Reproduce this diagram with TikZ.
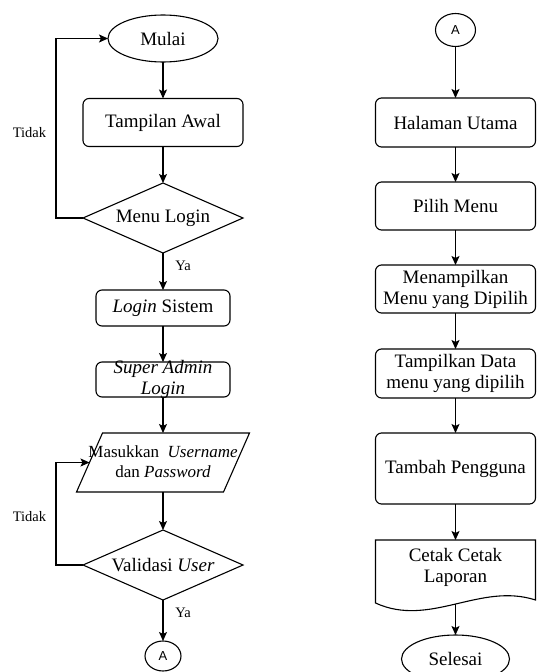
\documentclass[tikz,border=0pt]{standalone}
\usepackage{fontspec}
\setmainfont{Liberation Serif}
\newfontfamily\connfont{Liberation Sans}
\usetikzlibrary{shapes.geometric,arrows.meta,calc}

\tikzset{
  every node/.style={inner sep=0pt, outer sep=0pt},
  boxtext/.style={font=\fontsize{19}{21}\selectfont, align=center},
  lbl/.style={font=\fontsize{14.5}{16}\selectfont},
  terminal/.style={ellipse, draw, line width=1.1pt, boxtext},
  procbox/.style={rectangle, rounded corners=6pt, draw, line width=1.1pt, boxtext},
  decision/.style={diamond, aspect=2.3, draw, line width=1.1pt, boxtext,
                   minimum width=160pt, minimum height=70pt},
  connector/.style={circle, draw, line width=1.1pt, ellipse,
                    font=\connfont\fontsize{13}{15}\selectfont},
  flow/.style={draw, line width=1.1pt, -{Stealth[length=9pt,width=8pt,inset=2pt]}},
  edge/.style={draw, line width=1.1pt},
}

\begin{document}
\begin{tikzpicture}[x=1pt, y=-1pt]
\useasboundingbox (0,0) rectangle (536,672);

% ---------- left column ----------
\node[terminal, minimum width=110pt, minimum height=47pt] (mulai) at (163,38.5) {Mulai};
\node[procbox, minimum width=160pt, minimum height=48pt] (awal) at (163,122.5) {Tampilan Awal};
\node[decision] (menulogin) at (163,218) {Menu Login};
\node[procbox, minimum width=134pt, minimum height=36pt] (login) at (163,308) {\textit{Login} Sistem};
\node[procbox, minimum width=134pt, minimum height=35pt,
      label={[name=satext, boxtext]center:\textit{Super Admin}\\\textit{Login}}] (superadmin) at (163,379.5) {};

% input parallelogram
\node[minimum width=173pt, minimum height=59pt] (input) at (163,462.5) {};
\draw[edge] ($(input.north west)+(26,0)$) -- (input.north east)
            -- ($(input.south east)+(-26,0)$) -- (input.south west) -- cycle;
\node[font=\fontsize{17}{20}\selectfont, align=center] (inputtext) at (163,462)
     {Masukkan\ \ \textit{Username}\\dan \textit{Password}};
\coordinate (inputleft) at ($(input.west)+(13,0)$);

\node[decision] (validasi) at (163,565) {Validasi \textit{User}};
\node[connector, minimum width=36pt, minimum height=30pt] (aleft) at (163,656) {A};

% loop lane on the far left
\coordinate (lane) at (56,0);

\path[flow] (mulai) -- (awal);
\path[flow] (awal) -- (menulogin);
\path[flow] (menulogin) -- (login);
\path[flow] (login) -- (superadmin);
\path[flow] (superadmin) -- (input);
\path[flow] (input) -- (validasi);
\path[flow] (validasi) -- (aleft);
\path[flow] (menulogin.west) -- (menulogin.west -| lane) |- (mulai.west);
\path[flow] (validasi.west) -- (validasi.west -| lane) |- (inputleft);

\node[lbl] (tidak1) at (29.5,133) {Tidak};
\node[lbl] (ya1) at (183,266) {Ya};
\node[lbl] (tidak2) at (29.5,517) {Tidak};
\node[lbl] (ya2) at (183,613) {Ya};

% ---------- right column ----------
\node[connector, minimum width=40pt, minimum height=33pt] (aright) at (455.5,30) {A};
\node[procbox, minimum width=160pt, minimum height=49pt] (utama) at (455.5,122.5) {Halaman Utama};
\node[procbox, minimum width=160pt, minimum height=48pt] (pilih) at (455.5,206) {Pilih Menu};
\node[procbox, minimum width=160pt, minimum height=48pt] (tampil) at (455.5,289) {Menampilkan\\Menu yang Dipilih};
\node[procbox, minimum width=160pt, minimum height=49pt] (data) at (455.5,373.5) {Tampilkan Data\\menu yang dipilih};
\node[procbox, minimum width=160pt, minimum height=71pt] (tambah) at (455.5,468.5) {Tambah Pengguna};

% document shape with wavy bottom edge
\node[minimum width=160pt, minimum height=64pt,
      label={[name=doctext, boxtext, yshift=4.5pt]center:Cetak Cetak\\Laporan}] (cetak) at (455.5,572) {};
\draw[edge] (cetak.north west) -- (cetak.north east) -- (535.5,600)
            .. controls (480,582) and (430,628) .. (375.5,603) -- cycle;

\node[terminal, minimum width=108pt, minimum height=48pt] (selesai) at (455.5,659) {Selesai};

\path[flow] (aright) -- (utama);
\path[flow] (utama) -- (pilih);
\path[flow] (pilih) -- (tampil);
\path[flow] (tampil) -- (data);
\path[flow] (data) -- (tambah);
\path[flow] (tambah) -- (cetak);
\path[flow] (cetak.south) -- (selesai);
\end{tikzpicture}
\end{document}
